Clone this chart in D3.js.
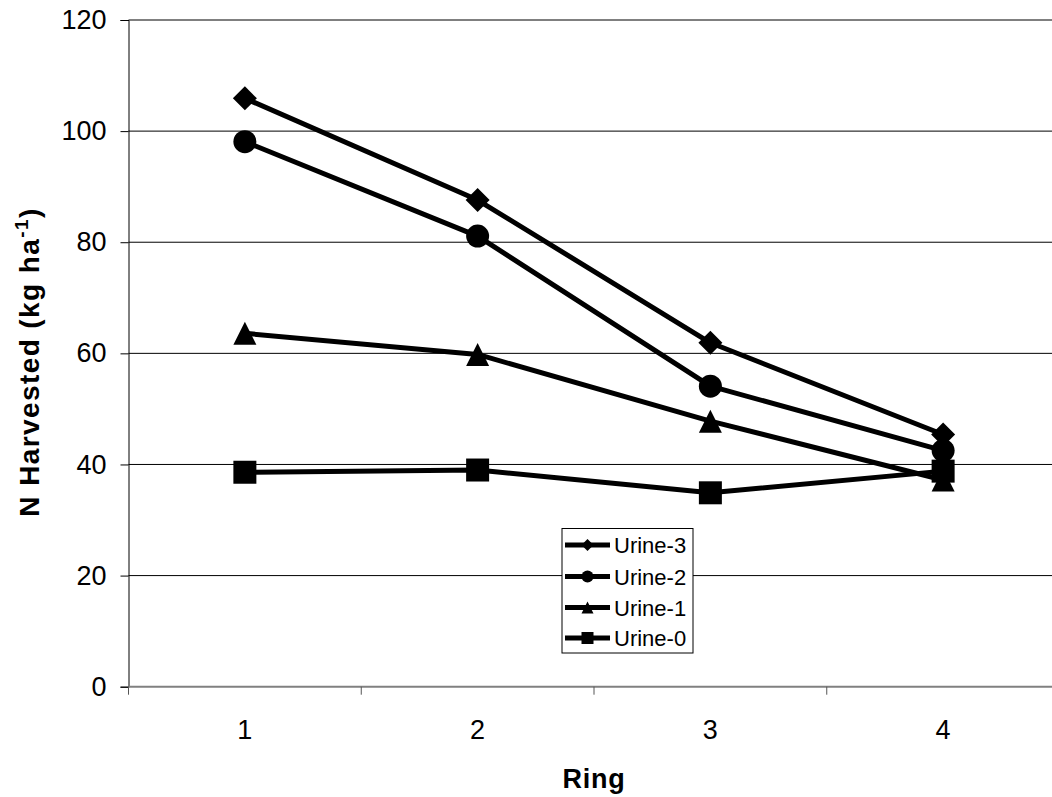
<!DOCTYPE html>
<html>
<head>
<meta charset="utf-8">
<script src="https://cdn.jsdelivr.net/npm/d3@7"></script>
<style>
  html, body { margin: 0; padding: 0; background: #fff; }
  svg { display: block; }
  text { font-family: Arial, "Liberation Sans", sans-serif; fill: #000; }
</style>
</head>
<body>
<svg id="chart" width="1052" height="797"></svg>
<script>
const rings = [1, 2, 3, 4];
const seriesNames = ["Urine-3", "Urine-2", "Urine-1", "Urine-0"];
const urine3 = [105.9, 87.6, 61.9, 45.4];
const urine2 = [98.1, 81.1, 54.1, 42.5];
const urine1 = [63.6, 59.8, 47.8, 37.2];
const urine0 = [38.6, 39.0, 34.9, 38.8];
const yTicks = [0, 20, 40, 60, 80, 100, 120];
const markerTypes = ["diamond", "circle", "triangle", "square"];
const seriesValues = [urine3, urine2, urine1, urine0];

(function () {
const svg = d3.select("#chart");
const pLeft = 128.5, pRight = 1059.5, pTop = 20, pBottom = 686.7;

const x = d3.scaleBand().domain(rings).range([pLeft, pRight]).padding(0);
const xc = d => x(d) + x.bandwidth() / 2;
const y = d3.scaleLinear().domain([0, 120]).range([pBottom, pTop]);

// gridlines
svg.append("g").selectAll("line").data(yTicks.filter(t => t > 0)).join("line")
  .attr("x1", pLeft).attr("x2", pRight)
  .attr("y1", d => y(d)).attr("y2", d => y(d))
  .attr("stroke", "#000").attr("stroke-width", 1);

// y axis
const yAxis = svg.append("g").attr("transform", `translate(${pLeft},0)`)
  .call(d3.axisLeft(y).tickValues(yTicks).tickSize(8).tickPadding(14));
yAxis.select(".domain").attr("stroke", "#000").attr("stroke-width", 1);
yAxis.selectAll(".tick line").attr("stroke", "#000");
yAxis.selectAll(".tick text").attr("font-size", 27).attr("font-family", "Arial, 'Liberation Sans', sans-serif").attr("fill", "#000");

// x axis with ticks at band boundaries
const xAxisG = svg.append("g").attr("transform", `translate(0,${pBottom})`);
xAxisG.append("line").attr("x1", pLeft).attr("x2", pRight).attr("y1", 0).attr("y2", 0)
  .attr("stroke", "#808080").attr("stroke-width", 2);
xAxisG.selectAll("line.tk").data(rings).join("line").attr("class", "tk")
  .attr("x1", d => x(d)).attr("x2", d => x(d)).attr("y1", 0).attr("y2", 8)
  .attr("stroke", "#555").attr("stroke-width", 1);
xAxisG.selectAll("text.lbl").data(rings).join("text").attr("class", "lbl")
  .attr("x", d => xc(d)).attr("y", 52).attr("text-anchor", "middle")
  .attr("font-size", 27).text(d => d);

// axis titles
svg.append("text").attr("x", (pLeft + pRight) / 2).attr("y", 788)
  .attr("text-anchor", "middle").attr("font-size", 27).attr("font-weight", "bold")
  .attr("letter-spacing", 0.8).text("Ring");

const yt = svg.append("text")
  .attr("transform", `translate(39,${362}) rotate(-90)`)
  .attr("text-anchor", "middle").attr("font-size", 28).attr("font-weight", "bold")
  .attr("letter-spacing", 1.4);
yt.append("tspan").text("N Harvested (kg ha");
yt.append("tspan").attr("font-size", 19).attr("dy", -11).text("-1");
yt.append("tspan").attr("dy", 11).text(")");

function markerPath(type, s) {
  const h = s / 2;
  if (type === "diamond") return `M0,${-h}L${h},0L0,${h}L${-h},0Z`;
  if (type === "square") return `M${-h},${-h}H${h}V${h}H${-h}Z`;
  if (type === "triangle") return `M0,${-h}L${h},${h}H${-h}Z`;
  return d3.symbol(d3.symbolCircle, Math.PI * h * h)();
}

const line = d3.line().x((d, i) => xc(rings[i])).y(d => y(d));

seriesValues.forEach((vals, si) => {
  const g = svg.append("g");
  g.append("path").attr("d", line(vals)).attr("fill", "none")
    .attr("stroke", "#000").attr("stroke-width", 5).attr("stroke-linejoin", "round");
  g.selectAll("path.m").data(vals).join("path").attr("class", "m")
    .attr("transform", (d, i) => `translate(${xc(rings[i])},${y(d)})`)
    .attr("d", markerPath(markerTypes[si], markerTypes[si] === "diamond" ? 24 : 23))
    .attr("fill", "#000");
});

// legend
const lg = svg.append("g");
lg.append("rect").attr("x", 562).attr("y", 528.5).attr("width", 131).attr("height", 124.5)
  .attr("fill", "#fff").attr("stroke", "#000").attr("stroke-width", 1);
const rowY = [545, 576.5, 607.5, 638];
seriesNames.forEach((name, i) => {
  const yy = rowY[i];
  lg.append("line").attr("x1", 565).attr("x2", 610).attr("y1", yy).attr("y2", yy)
    .attr("stroke", "#000").attr("stroke-width", 5);
  lg.append("path").attr("transform", `translate(587.5,${yy})`)
    .attr("d", markerPath(markerTypes[i], 12)).attr("fill", "#000");
  lg.append("text").attr("x", 614).attr("y", yy + 8).attr("font-size", 22).text(name);
});
})();
</script>
</body>
</html>
